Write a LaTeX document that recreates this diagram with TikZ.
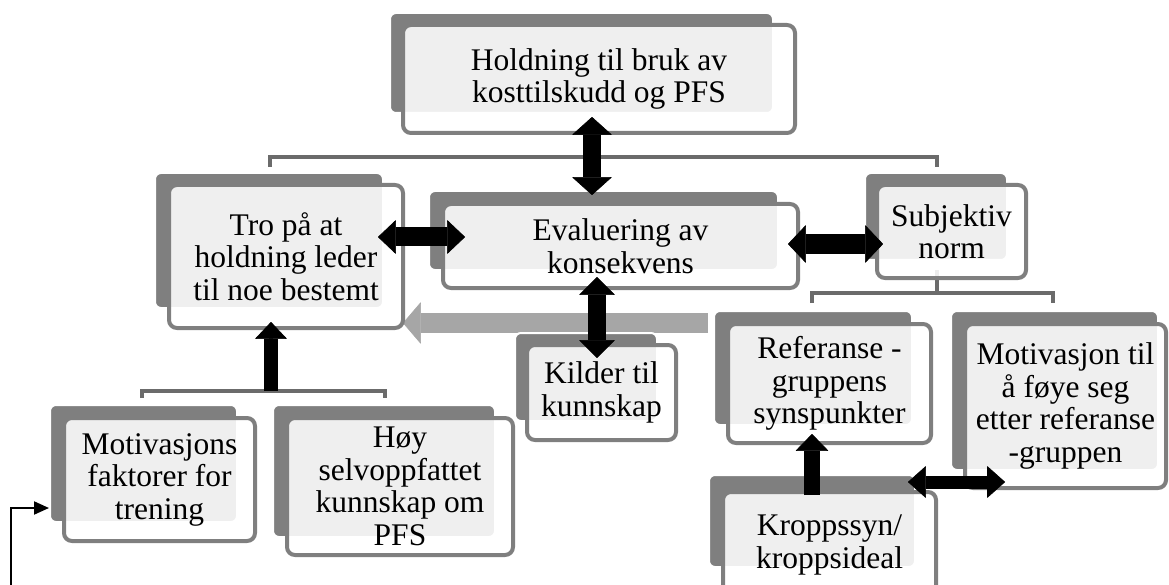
\documentclass[tikz,border=0pt]{standalone}
\usepackage{fontspec}
\setmainfont{Liberation Serif}
\usetikzlibrary{arrows.meta}
\definecolor{dk}{HTML}{7F7F7F}
\definecolor{brk}{HTML}{6B6B6B}
\definecolor{lg}{HTML}{A6A6A6}
\tikzset{
  backbox/.style={fill=dk, draw=white, line width=2pt, rounded corners=6pt},
  frontbox/.style={draw=dk, line width=4pt, fill=white, fill opacity=0.88, text opacity=1,
    rounded corners=8pt, inner sep=0pt, outer sep=0pt, align=center,
    font=\fontsize{31.5pt}{32.5pt}\selectfont},
  bracket/.style={draw=brk, line width=4pt},
  darrow/.style 2 args={draw=black, line width=#1,
    {Triangle[length=18pt,width=#2,line width=0.6pt,round]}-{Triangle[length=18pt,width=#2,line width=0.6pt,round]}},
  sarrow/.style 2 args={draw=black, line width=#1,
    -{Triangle[length=17pt,width=#2,line width=0.6pt,round]}},
  grayarrow/.style={draw=lg, line width=20pt,
    -{Triangle[length=18pt,width=42pt,line width=0.6pt,round]}},
  thinarrow/.style={draw=black, line width=2pt, -{Triangle[length=15pt,width=13pt]}}
}
\begin{document}
\begin{tikzpicture}[x=1pt,y=-1pt]
\useasboundingbox (0,0) rectangle (1169,585);

% hierarchy brackets
\draw[bracket] (599,135) -- (599,157);
\draw[bracket] (270,167) -- (270,157) -- (937,157) -- (937,167);
\draw[bracket] (271,330) -- (271,391);
\draw[bracket] (142,398) -- (142,391) -- (385,391) -- (385,398);
\draw[bracket] (937,270) -- (937,293);
\draw[bracket] (812,303) -- (812,293) -- (1053,293) -- (1053,303);

% gray arrow
\coordinate (gstart) at (708,323);
\coordinate (gend) at (403,323);
\draw[grayarrow] (gstart) -- (gend);

% boxes
\path[backbox] (390,13) rectangle (773,113);
\node[frontbox, minimum width=392pt, minimum height=108pt] (hold) at (599,79)
  {Holdning til bruk av\\kosttilskudd og PFS};

\path[backbox] (155,173) rectangle (383,308);
\node[frontbox, minimum width=234pt, minimum height=143pt] (tro) at (286,256.5)
  {Tro på at\\holdning leder\\til noe bestemt};

\path[backbox] (429,191) rectangle (778,270);
\node[frontbox, minimum width=355pt, minimum height=84pt] (eval) at (620.5,246)
  {Evaluering av\\konsekvens};

\path[backbox] (865,173) rectangle (1007,260);
\node[frontbox, minimum width=149pt, minimum height=93pt] (subj) at (951.5,231.5)
  {Subjektiv\\norm};

\path[backbox] (515,333) rectangle (657,421);
\node[frontbox, minimum width=149pt, minimum height=95pt] (kild) at (601.5,392.5)
  {Kilder til\\kunnskap};

\path[backbox] (50,405) rectangle (237,522);
\node[frontbox, minimum width=191pt, minimum height=123pt] (motf) at (159.5,479.5)
  {Motivasjons\\faktorer for\\trening};

\path[backbox] (273,405) rectangle (495,537);
\node[frontbox, minimum width=226pt, minimum height=137pt] (hoy) at (400,486.5)
  {Høy\\selvoppfattet\\kunnskap om\\PFS};

\path[backbox] (714,311) rectangle (912,425);
\node[frontbox, minimum width=203pt, minimum height=119pt] (ref) at (829.5,383.5)
  {Referanse -\\gruppens\\synspunkter};

\path[backbox] (951,311) rectangle (1158,470);
\node[frontbox, minimum width=201pt, minimum height=164pt] (motr) at (1065.5,406)
  {Motivasjon til\\å føye seg\\etter referanse\\-gruppen};

\path[backbox] (709,475) rectangle (915,567);
\node[frontbox, minimum width=213pt, minimum height=106pt] (kro) at (829.5,545)
  {Kroppssyn/\\kroppsideal};

% black arrows
\draw[darrow={18pt}{40pt}] ([xshift=-7pt,yshift=16pt]hold.south) -- ([xshift=-28.5pt,yshift=9pt]eval.north);
\draw[darrow={19pt}{34pt}] ([xshift=-25pt,yshift=19.5pt]tro.east) -- ([xshift=22pt,yshift=9pt]eval.west);
\draw[darrow={20pt}{38pt}] ([xshift=-10pt,yshift=2pt]eval.east) -- ([xshift=6pt,yshift=-12.5pt]subj.west);
\draw[darrow={18pt}{36pt}] ([xshift=-23.5pt,yshift=11pt]eval.south) -- ([xshift=-4.5pt,yshift=-13pt]kild.north);
\draw[darrow={13pt}{32pt}] ([xshift=-28pt,yshift=10pt]kro.north east) -- ([xshift=40pt,yshift=6pt]motr.south west);
\draw[sarrow={14pt}{32pt}] (271,391) -- ([xshift=-15pt,yshift=6pt]tro.south);
\draw[sarrow={16pt}{33pt}] ([xshift=-17.5pt,yshift=-3pt]kro.north) -- ([xshift=-17.5pt,yshift=9pt]ref.south);

% thin arrow at lower left
\coordinate (lstart) at (11,590);
\draw[thinarrow] (lstart) |- (49,508);
\end{tikzpicture}
\end{document}
